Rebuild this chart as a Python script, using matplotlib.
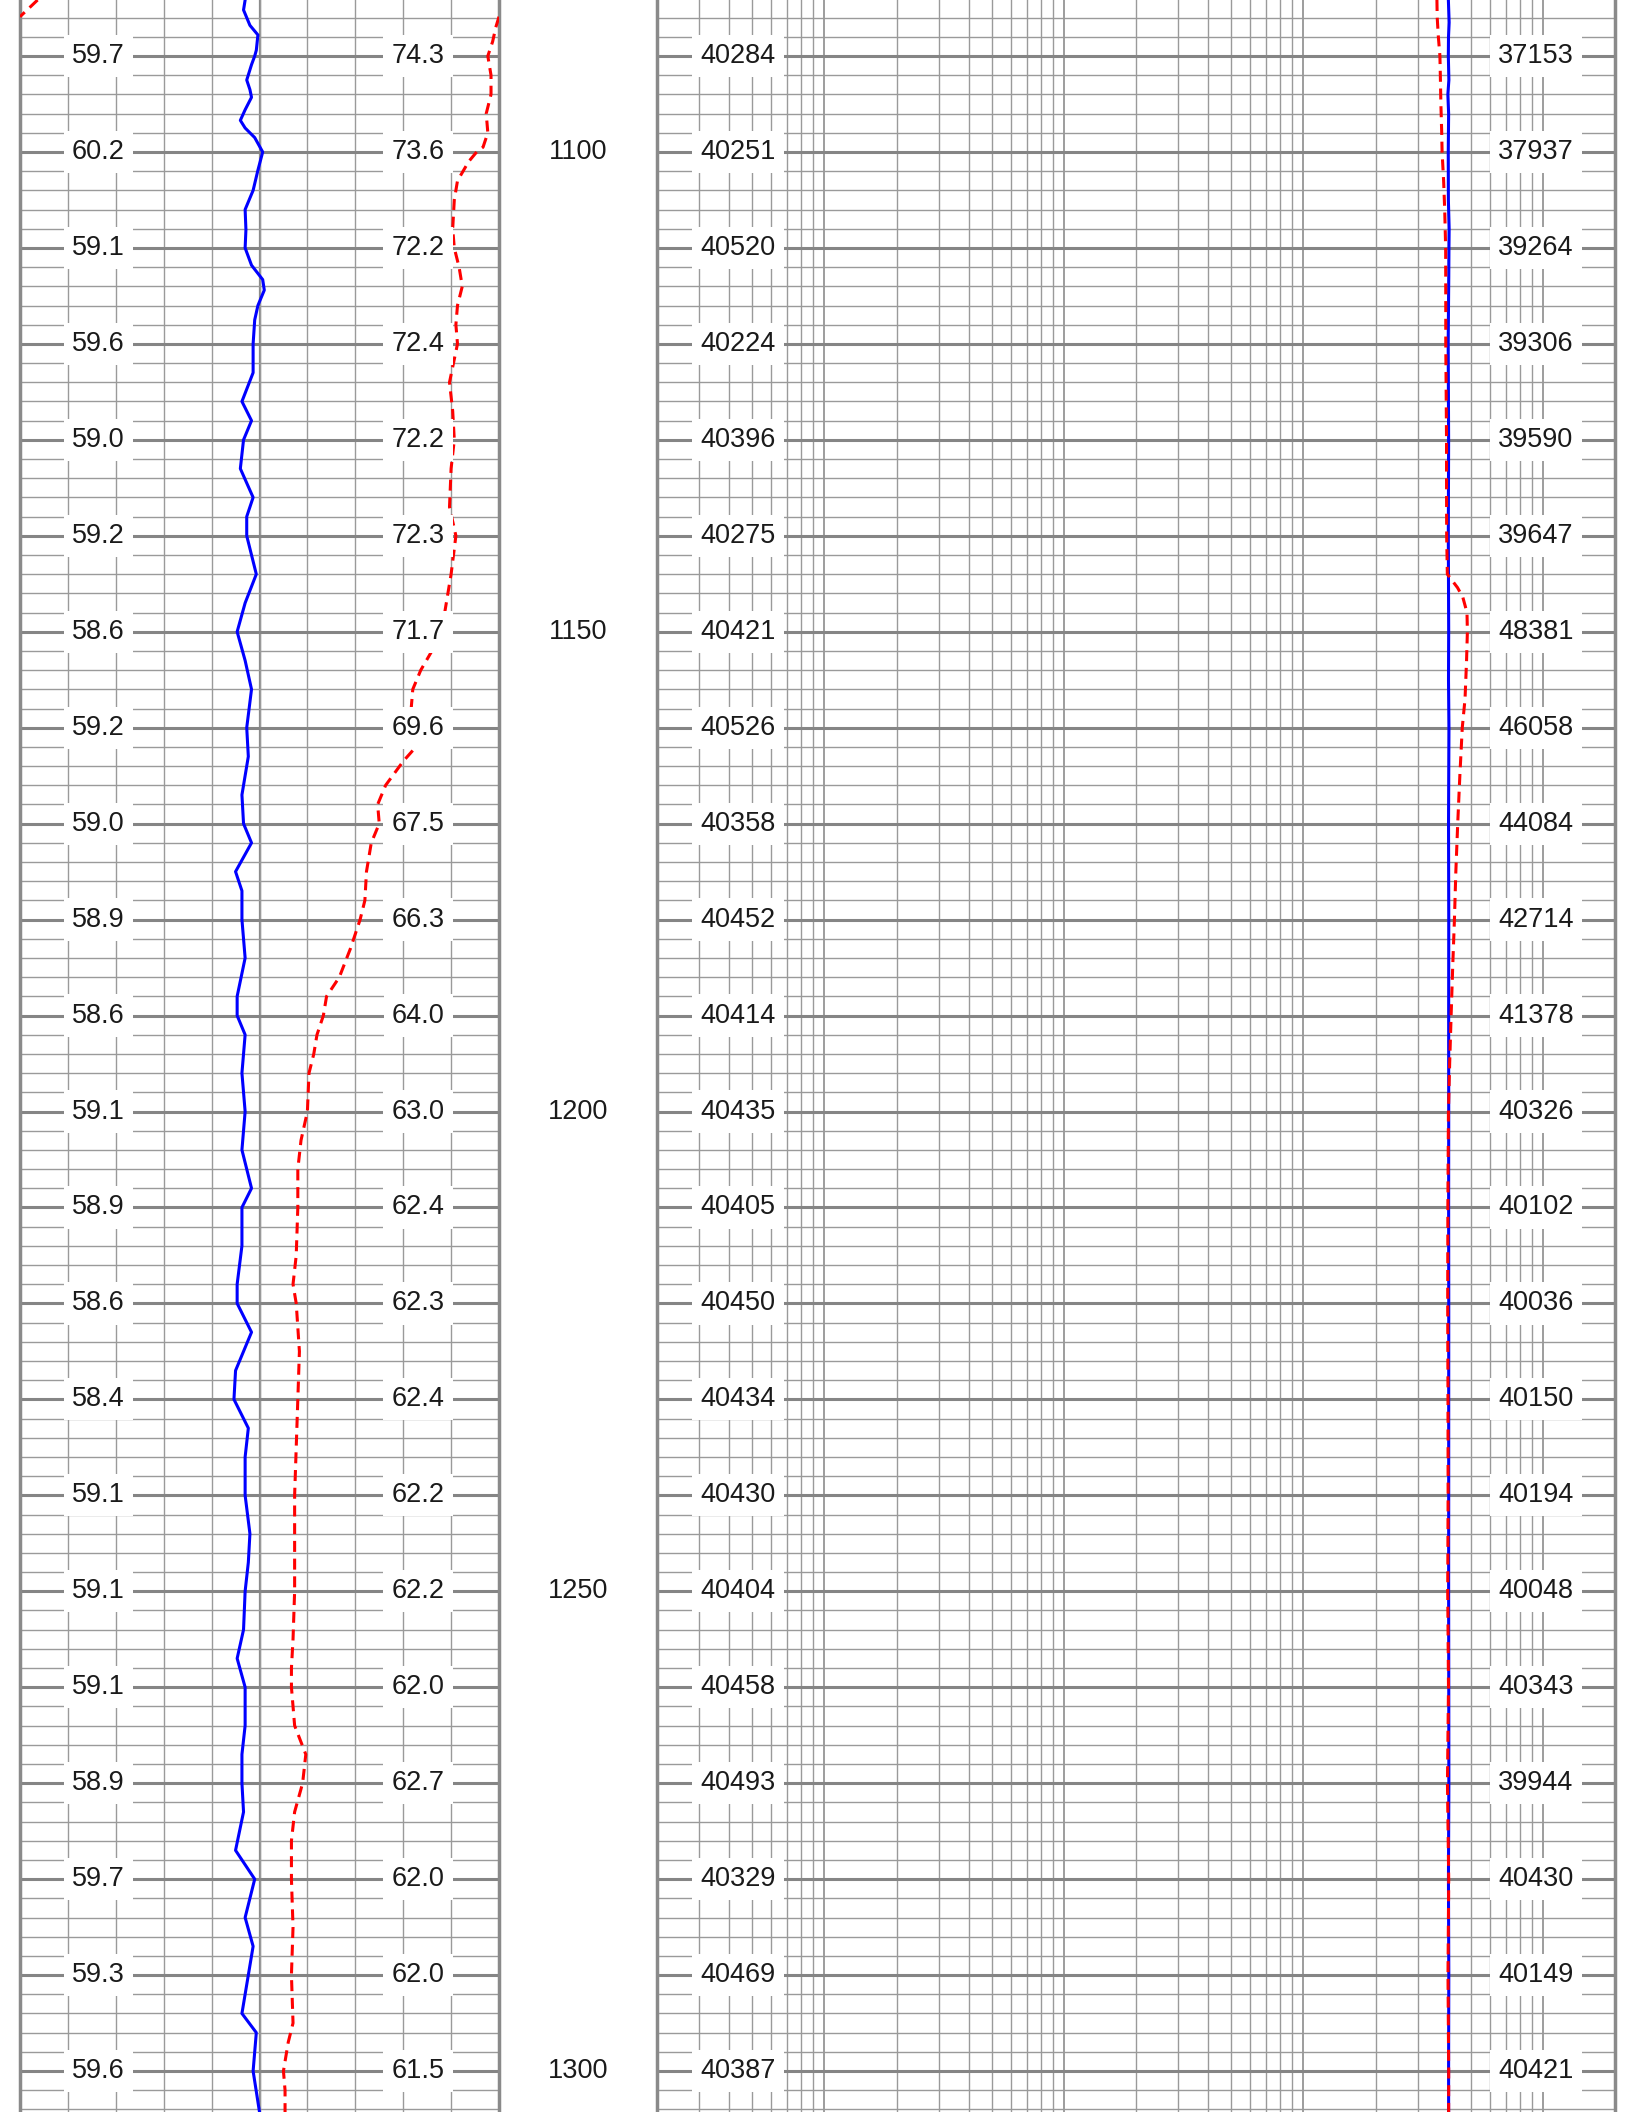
import numpy as np
import matplotlib
matplotlib.use('Agg')
import matplotlib.pyplot as plt
import matplotlib.transforms as mtransforms
from matplotlib.ticker import LogLocator, NullFormatter

plt.rcParams['font.family'] = ['Liberation Sans', 'DejaVu Sans']

# depth window shown
depth_top = 1084.16
depth_bot = 1304.27

# label rows (every 10 m) and depth annotations (every 50 m)
label_depths = [1090, 1100, 1110, 1120, 1130, 1140, 1150, 1160, 1170, 1180, 1190,
                1200, 1210, 1220, 1230, 1240, 1250, 1260, 1270, 1280, 1290, 1300]
depth_marks = [1100, 1150, 1200, 1250, 1300]

# left track labels (blue solid / red dashed)
left_blue_labels = [59.7, 60.2, 59.1, 59.6, 59.0, 59.2, 58.6, 59.2, 59.0, 58.9, 58.6,
                    59.1, 58.9, 58.6, 58.4, 59.1, 59.1, 59.1, 58.9, 59.7, 59.3, 59.6]
left_red_labels = [74.3, 73.6, 72.2, 72.4, 72.2, 72.3, 71.7, 69.6, 67.5, 66.3, 64.0,
                   63.0, 62.4, 62.3, 62.4, 62.2, 62.2, 62.0, 62.7, 62.0, 62.0, 61.5]

# right track labels (blue solid / red dashed)
right_blue_labels = [40284, 40251, 40520, 40224, 40396, 40275, 40421, 40526, 40358, 40452, 40414,
                     40435, 40405, 40450, 40434, 40430, 40404, 40458, 40493, 40329, 40469, 40387]
right_red_labels = [37153, 37937, 39264, 39306, 39590, 39647, 48381, 46058, 44084, 42714, 41378,
                    40326, 40102, 40036, 40150, 40194, 40048, 40343, 39944, 40430, 40149, 40421]

# left track, blue curve
lb_depth = [1084.16, 1085.2, 1086.8, 1087.8, 1089.4, 1090, 1090.9, 1092.5, 1093.5, 1094.3,
            1095.6, 1096.7, 1097.5, 1098.5, 1100, 1101.9, 1104, 1106, 1108.1, 1110, 1111.8,
            1113.3, 1114.4, 1116, 1117.5, 1120, 1123, 1126, 1128, 1130, 1133, 1136, 1138,
            1140, 1144, 1147, 1150, 1153, 1156, 1160, 1163, 1167, 1170, 1172, 1175, 1177,
            1180, 1184, 1188, 1190, 1192, 1196, 1200, 1204, 1208, 1210, 1214, 1218, 1220,
            1223, 1227, 1230, 1233, 1236, 1240, 1244, 1247, 1250, 1254, 1257, 1260, 1264,
            1267, 1270, 1273, 1277, 1280, 1284, 1287, 1290, 1294, 1296, 1300, 1304.27]
lb_val = [59.1, 59.0, 59.4, 59.9, 59.8, 59.7, 59.5, 59.2, 59.4, 59.5,
          59.1, 58.8, 59.1, 59.7, 60.2, 59.9, 59.6, 59.1, 59.15, 59.1, 59.5,
          60.2, 60.3, 59.9, 59.7, 59.6, 59.6, 58.9, 59.5, 59.0, 58.8, 59.6, 59.2,
          59.2, 59.8, 59.1, 58.6, 59.1, 59.5, 59.2, 59.3, 58.9, 59.0, 59.5, 58.5, 58.9,
          58.9, 59.1, 58.6, 58.6, 59.1, 58.9, 59.1, 58.9, 59.5, 58.9, 58.9, 58.6, 58.6,
          59.5, 58.5, 58.4, 59.3, 59.1, 59.1, 59.4, 59.3, 59.1, 59.0, 58.6, 59.1, 59.1,
          58.9, 58.9, 59.0, 58.5, 59.7, 59.1, 59.6, 59.3, 58.9, 59.8, 59.6, 60.0]

# left track, red dashed curve (values above 75 wrap to the left side)
lr_depth = [1084.16, 1085.9, 1087, 1088.5, 1090, 1092, 1094, 1096, 1098, 1099.5, 1100,
            1101, 1103, 1105, 1108, 1110, 1112, 1114, 1116, 1118, 1120, 1124, 1127, 1130,
            1133, 1137, 1140, 1144, 1146, 1148, 1150, 1152, 1154, 1156, 1158, 1160, 1162,
            1163.5, 1166, 1168, 1170, 1172, 1175, 1178, 1180, 1183, 1186, 1188, 1190, 1192,
            1194, 1196, 1200, 1203, 1206, 1210, 1215, 1218, 1220, 1225, 1230, 1235, 1240,
            1245, 1250, 1255, 1258, 1260, 1264, 1267, 1270, 1273, 1276, 1280, 1285, 1290,
            1295, 1297, 1300, 1302, 1304.27]
lr_val = [76.1, 75.0, 74.8, 74.6, 74.3, 74.5, 74.5, 74.2, 74.3, 74.0, 73.6,
          73.1, 72.4, 72.2, 72.1, 72.2, 72.5, 72.7, 72.4, 72.3, 72.4, 71.9, 72.1, 72.2,
          72.0, 71.9, 72.3, 72.0, 71.8, 71.6, 71.7, 70.8, 70.1, 69.6, 69.5, 69.6, 69.8,
          69.0, 67.9, 67.4, 67.5, 67.0, 66.7, 66.6, 66.3, 65.7, 65.0, 64.2, 64.0, 63.6,
          63.4, 63.1, 63.0, 62.6, 62.4, 62.4, 62.3, 62.1, 62.3, 62.5, 62.4, 62.3, 62.2,
          62.2, 62.2, 62.1, 62.0, 62.0, 62.2, 62.9, 62.7, 62.2, 62.0, 62.0, 62.1, 62.0,
          62.1, 61.8, 61.5, 61.6, 61.6]

# right track, blue curve
rb_depth = [1084.16, 1086.5, 1088, 1090, 1092.5, 1094, 1096, 1100, 1105, 1108, 1110, 1113,
            1120, 1130, 1140, 1150, 1155, 1160, 1170, 1180, 1190, 1200, 1210, 1220, 1230,
            1240, 1250, 1260, 1270, 1280, 1290, 1300, 1304.27]
rb_val = [40300, 40600, 40350, 40284, 40500, 40100, 40400, 40251, 40300, 40600, 40520, 40450,
          40224, 40396, 40275, 40421, 40350, 40526, 40358, 40452, 40414, 40435, 40405, 40450,
          40434, 40430, 40404, 40458, 40493, 40329, 40469, 40387, 40400]

# right track, red dashed curve
rr_depth = [1084.16, 1086, 1088, 1090, 1092, 1095, 1098, 1100, 1103, 1106, 1110, 1115,
            1120, 1125, 1130, 1135, 1140, 1144, 1145.4, 1146.4, 1148, 1150, 1153, 1157,
            1160, 1165, 1170, 1175, 1180, 1185, 1190, 1195, 1200, 1210, 1220, 1230, 1240,
            1250, 1260, 1270, 1280, 1290, 1300, 1304.27]
rr_val = [36100, 36200, 36600, 37153, 37300, 37500, 37800, 37937, 38500, 38900, 39264, 39300,
          39306, 39450, 39590, 39600, 39647, 39900, 44000, 46300, 48200, 48381, 48000, 47300,
          46058, 45000, 44084, 43300, 42714, 42000, 41378, 40800, 40326, 40102, 40036, 40150,
          40194, 40048, 40343, 39944, 40430, 40149, 40421, 40400]

W, H = 1636, 2112
fig = plt.figure(figsize=(W / 100, H / 100), dpi=100)
ax_l = fig.add_axes([20 / W, 0, 479 / W, 1])
ax_d = fig.add_axes([499 / W, 0, 158 / W, 1], sharey=ax_l)
ax_r = fig.add_axes([657 / W, 0, 958 / W, 1], sharey=ax_l)

grid_c = '#9a9a9a'
major_c = '#858585'
text_c = '#1a1a1a'
lw = 2.2
dash = (0, (3.6, 2.2))
fs = 19.5

for ax in (ax_l, ax_r):
    ax.set_yticks(label_depths)
    ax.set_yticks(np.arange(1086, 1305, 2), minor=True)
    ax.grid(True, which='minor', axis='y', color=grid_c, lw=1.0, zorder=0)
    ax.grid(True, which='major', axis='y', color=major_c, lw=2.2, zorder=0)
    ax.tick_params(which='both', length=0, labelleft=False, labelbottom=False)
    for s in ('top', 'bottom'):
        ax.spines[s].set_visible(False)
    for s in ('left', 'right'):
        ax.spines[s].set_color('#8a8a8a')
        ax.spines[s].set_linewidth(2.5)
    ax.set_axisbelow(True)

ax_l.set_ylim(depth_bot, depth_top)

# left track: linear 45-75
ax_l.set_xlim(45, 75)
ax_l.set_xticks(np.arange(45, 76, 3))
ax_l.grid(True, which='major', axis='x', color=grid_c, lw=1.0, zorder=0)
ax_l.axvline(60, color='#888888', lw=1.6, zorder=0)

# right track: logarithmic 20 - 200000
ax_r.set_xscale('log')
ax_r.set_xlim(20, 200000)
ax_r.xaxis.set_major_locator(LogLocator(base=10, numticks=10))
ax_r.xaxis.set_minor_locator(LogLocator(base=10, subs=np.arange(2, 10), numticks=20))
ax_r.xaxis.set_minor_formatter(NullFormatter())
ax_r.grid(True, which='major', axis='x', color='#8c8c8c', lw=1.2, zorder=0)
ax_r.grid(True, which='minor', axis='x', color=grid_c, lw=1.0, zorder=0)

# depth track
ax_d.set_xlim(0, 1)
ax_d.axis('off')
for d in depth_marks:
    ax_d.text(0.5, d, str(d), ha='center', va='center', fontsize=fs, color=text_c)

# curves
ax_l.plot(lb_val, lb_depth, color='#0000ff', lw=lw, zorder=3)
lr = np.array(lr_val)
lr_d = np.array(lr_depth)
main = np.where(lr <= 75.0, lr, np.nan)
wrap = np.where(lr >= 75.0, lr - 30, np.nan)
ax_l.plot(main, lr_d, color='#ff0000', lw=lw, linestyle=dash, zorder=3)
ax_l.plot(wrap, lr_d, color='#ff0000', lw=lw, linestyle=dash, zorder=3)

ax_r.plot(rb_val, rb_depth, color='#0000ff', lw=lw, zorder=3)
ax_r.plot(rr_val, rr_depth, color='#ff0000', lw=lw, linestyle=dash, zorder=4)

# value labels on each 10 m row
box = dict(boxstyle='square,pad=0.3', facecolor='white', edgecolor='none')
tl = mtransforms.blended_transform_factory(ax_l.transAxes, ax_l.transData)
tr = mtransforms.blended_transform_factory(ax_r.transAxes, ax_r.transData)
for i, d in enumerate(label_depths):
    ax_l.text(0.163, d, f'{left_blue_labels[i]:.1f}', transform=tl, ha='center', va='center',
              fontsize=fs, color=text_c, bbox=box, zorder=6)
    ax_l.text(0.831, d, f'{left_red_labels[i]:.1f}', transform=tl, ha='center', va='center',
              fontsize=fs, color=text_c, bbox=box, zorder=6)
    ax_r.text(0.0846, d, str(right_blue_labels[i]), transform=tr, ha='center', va='center',
              fontsize=fs, color=text_c, bbox=box, zorder=6)
    ax_r.text(0.9175, d, str(right_red_labels[i]), transform=tr, ha='center', va='center',
              fontsize=fs, color=text_c, bbox=box, zorder=6)

fig.savefig('out.png', dpi=100)
plt.close(fig)
